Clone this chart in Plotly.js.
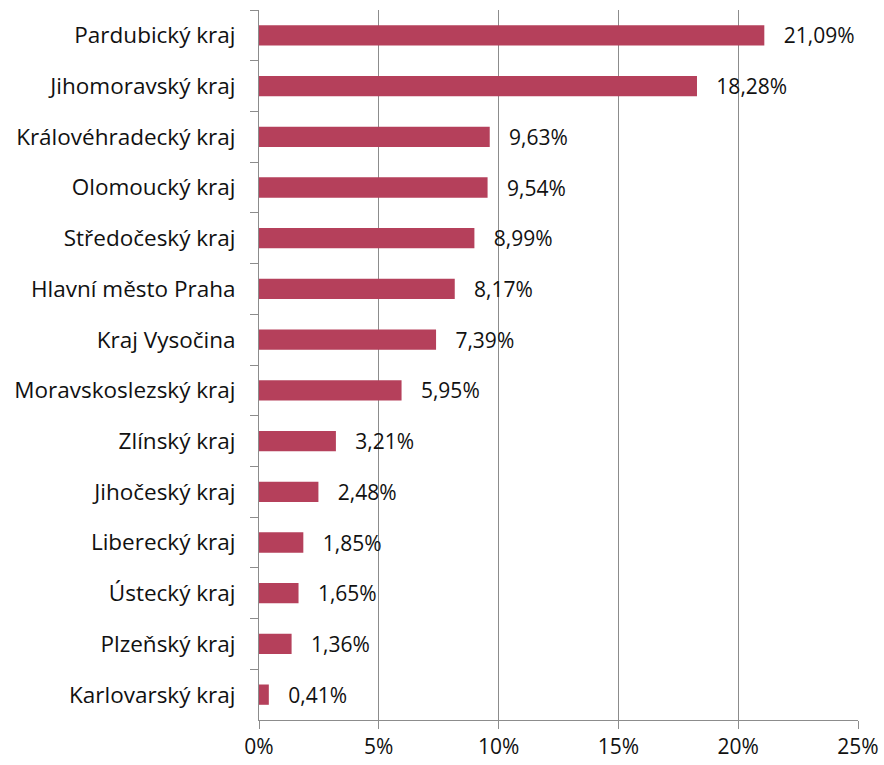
<!DOCTYPE html>
<html><head><meta charset="utf-8">
<script src="https://cdn.plot.ly/plotly-3.0.1.min.js"></script>
<style>html,body{margin:0;padding:0;background:#fff}#c{width:884px;height:765px}</style>
</head><body><div id="c"></div>
<script>
const regions = ["Pardubický kraj","Jihomoravský kraj","Královéhradecký kraj","Olomoucký kraj","Středočeský kraj","Hlavní město Praha","Kraj Vysočina","Moravskoslezský kraj","Zlínský kraj","Jihočeský kraj","Liberecký kraj","Ústecký kraj","Plzeňský kraj","Karlovarský kraj"];
const shares = [21.09,18.28,9.63,9.54,8.99,8.17,7.39,5.95,3.21,2.48,1.85,1.65,1.36,0.41];
const xTicks = [0,5,10,15,20,25];
const xTickLabels = ["0%","5%","10%","15%","20%","25%"];

const font = "'Open Sans', 'Noto Sans', sans-serif";
Plotly.newPlot('c', [{
  type:'bar', orientation:'h', y:regions, x:shares,
  marker:{color:'#b5405b'}, width:0.4,
  texttemplate:'\u00a0\u00a0\u00a0%{x:.2f}%', textposition:'outside', constraintext:'none',
  textfont:{family:font,size:21,color:'#111'}, cliponaxis:false,
  hoverinfo:'none'
}], {
  width:884, height:765, separators:', ',
  margin:{l:259,r:26,t:10,b:45},
  paper_bgcolor:'#fff', plot_bgcolor:'#fff', showlegend:false,
  font:{family:font,size:21,color:'#111'},
  xaxis:{range:[0,25], tickvals:xTicks, ticktext:xTickLabels, showgrid:true, gridcolor:'#8c8c8c', gridwidth:1,
    showline:true, linecolor:'#8c8c8c', ticks:'outside', ticklen:8, tickcolor:'#8c8c8c', zeroline:false,
    tickfont:{family:font,size:21,color:'#111'}, fixedrange:true},
  yaxis:{type:'category', autorange:'reversed', showline:true, linecolor:'#8c8c8c', ticks:'outside', tickson:'boundaries',
    ticklen:8, tickcolor:'#8c8c8c', showgrid:false, ticklabelstandoff:18, tickfont:{family:font,size:22.5,color:'#111'}, fixedrange:true}
}, {displayModeBar:false, staticPlot:true});
</script></body></html>
